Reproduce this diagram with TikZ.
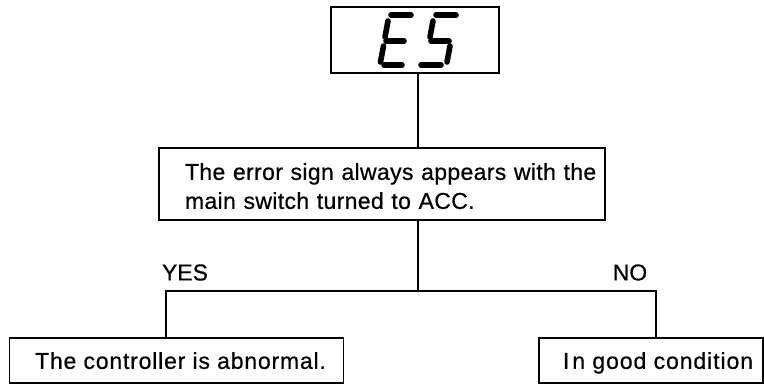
\documentclass[tikz,border=0pt]{standalone}
\usepackage{fontspec}
\setmainfont{Liberation Sans}[FakeBold=0.6]
\newfontfamily\lsA{Liberation Sans}[LetterSpace=1.5,FakeBold=0.6]
\newfontfamily\lsB{Liberation Sans}[LetterSpace=3.5,FakeBold=0.6]
\newfontfamily\lsC{Liberation Sans}[LetterSpace=4,FakeBold=0.6]
\begin{document}
\begin{tikzpicture}[x=1pt,y=-1pt,
  box/.style={draw,line width=1.1pt,inner sep=0pt,minimum height=45pt},
  lbl/.style={inner sep=0pt,font=\fontsize{23}{29}\selectfont},
  seg/.style={line width=5.6pt,line cap=round},
  conn/.style={line width=1.1pt}]
\useasboundingbox (0,0) rectangle (764,385);
% top display box
\node[draw,line width=1.1pt,minimum width=168pt,minimum height=66pt,inner sep=0pt] (es) at (415,40) {};
% E
\draw[seg] (391,15) -- (411,15);
\draw[seg] (388,21) -- (385,37);
\draw[seg] (386,41) -- (404,41);
\draw[seg] (383.5,46) -- (380.5,62);
\draw[seg] (384,65) -- (402,65);
% S
\draw[seg] (436,15) -- (456,15);
\draw[seg] (433,21) -- (430,37);
\draw[seg] (431,41) -- (449,41);
\draw[seg] (450,46) -- (447,62);
\draw[seg] (421,65) -- (441,65);
% question box
\node[box,lbl,minimum width=446pt,minimum height=72pt,text width=394pt,align=left,font=\fontsize{23}{29}\selectfont\lsA] (q) at (382,184)
  {\rule{0pt}{21pt}\makebox[394pt][l]{The error sign always appears with the}\\main switch turned to ACC.};
% answer boxes
\node[box,lbl,minimum width=334pt,text height=16.7pt,text depth=0pt,font=\fontsize{23}{29}\selectfont\lsB] (yesbox) at (176.5,360.5) {\hspace{8pt}The controller is abnormal.};
\node[box,lbl,minimum width=224pt,text height=16.7pt,text depth=0pt,font=\fontsize{23}{29}\selectfont\lsC] (nobox) at (651,360.5) {\hspace{14pt}I\hspace{3pt}n good condition};
% labels
\node[lbl] (yes) at (185,272.5) {YES};
\node[lbl] (no) at (630,272.5) {NO};
% connectors
\coordinate (j) at (418,291);
\coordinate (jl) at (166,291);
\coordinate (jr) at (656,291);
\draw[conn] (es.south -| j) -- (q.north -| j);
\draw[conn] (q.south -| j) -- (j);
\draw[conn] (yesbox.north -| jl) -- (jl) -- (jr) -- (nobox.north -| jr);
\end{tikzpicture}
\end{document}
